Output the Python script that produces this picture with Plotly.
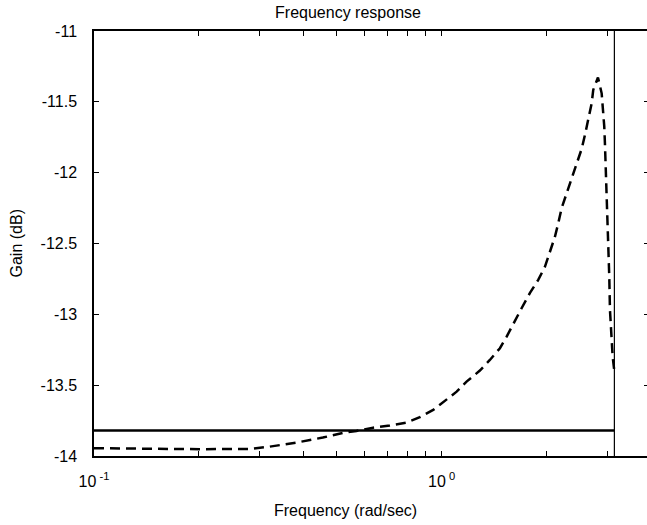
import plotly.graph_objects as go

# ---- data ----
freq = [0.1, 0.1446, 0.2015, 0.2807, 0.3204, 0.3825, 0.4554, 0.5199, 0.5691,
        0.6355, 0.7098, 0.7931, 0.8660, 0.9458, 1.0337, 1.105, 1.180, 1.289,
        1.377, 1.472, 1.539, 1.626, 1.699, 1.796, 1.897, 1.984, 2.050, 2.119,
        2.166, 2.215, 2.290, 2.367, 2.447, 2.529, 2.585, 2.642, 2.703, 2.731,
        2.818, 2.888, 2.919, 2.938, 2.951, 2.972, 3.001, 3.037, 3.051, 3.086,
        3.106, 3.1416]
gain_db = [-13.945, -13.950, -13.952, -13.950, -13.934, -13.905, -13.870,
           -13.837, -13.823, -13.800, -13.785, -13.764, -13.726, -13.675,
           -13.604, -13.546, -13.475, -13.397, -13.322, -13.239, -13.157,
           -13.040, -12.957, -12.849, -12.757, -12.663, -12.558, -12.452,
           -12.357, -12.251, -12.145, -12.040, -11.939, -11.833, -11.734,
           -11.616, -11.510, -11.416, -11.328, -11.440, -11.558, -11.675,
           -11.793, -12.002, -12.263, -12.734, -12.969, -13.181, -13.299,
           -13.404]

nyquist_freq = [3.1416, 3.1416]
nyquist_gain = [-11, -14]
ref_freq = [0.1, 3.1416]
ref_gain = [-13.82, -13.82]

x_major_vals = [0.1, 1]
x_major_text = ["10<sup> -1</sup>", "10<sup> 0</sup>"]
x_minor_vals = [0.2, 0.3, 0.4, 0.5, 0.6, 0.7, 0.8, 0.9, 2, 3]
y_tick_vals = [-14, -13.5, -13, -12.5, -12, -11.5, -11]
y_tick_text = ["-14", "-13.5", "-13", "-12.5", "-12", "-11.5", "-11"]

FONT = "Liberation Sans, Arial, Helvetica, sans-serif"

W, H = 647, 525
L, T, B = 94, 31, 525 - 456

fig = go.Figure()
fig.add_trace(go.Scatter(x=ref_freq, y=ref_gain, mode="lines",
                         line=dict(color="black", width=2.5),
                         showlegend=False, hoverinfo="skip"))
fig.add_trace(go.Scatter(x=freq, y=gain_db, mode="lines",
                         line=dict(color="black", width=2.5, dash="10px,6px"),
                         showlegend=False))
fig.add_trace(go.Scatter(x=nyquist_freq, y=nyquist_gain, mode="lines",
                         line=dict(color="black", width=1.2),
                         yaxis="y2", showlegend=False, hoverinfo="skip"))

fig.update_layout(
    width=W, height=H,
    margin=dict(l=L, r=0, t=T, b=B, pad=0),
    paper_bgcolor="white", plot_bgcolor="white",
    font=dict(family=FONT, size=16, color="black"),
    title=dict(text="Frequency response", x=348 / W, xref="container",
               xanchor="center", y=1 - 12 / H, yanchor="middle",
               font=dict(family=FONT, size=16, color="black")),
    xaxis=dict(type="log", range=[-1, 0.591], showgrid=False, zeroline=False,
               showline=True, linecolor="black", linewidth=1.5,
               mirror="allticks", ticks="inside", ticklen=5, tickwidth=1,
               tickcolor="black", tickmode="array", tickvals=x_major_vals,
               ticktext=x_major_text, ticklabelstandoff=10,
               tickfont=dict(size=16),
               minor=dict(tickmode="array", tickvals=x_minor_vals,
                          ticks="inside", ticklen=5, tickwidth=1,
                          tickcolor="black", showgrid=False)),
    yaxis=dict(range=[-14, -11], showgrid=False, zeroline=False,
               showline=True, linecolor="black", linewidth=1.5, mirror=False,
               ticks="inside", ticklen=5, tickwidth=1, tickcolor="black",
               tickmode="array", tickvals=y_tick_vals, ticktext=y_tick_text,
               ticklabelstandoff=12, tickfont=dict(size=16)),
    yaxis2=dict(range=[-14, -11], overlaying="y", side="right",
                showgrid=False, zeroline=False, showline=False,
                ticks="inside", ticklen=3, tickwidth=1, tickcolor="black",
                tickmode="array", tickvals=y_tick_vals, showticklabels=False),
    annotations=[
        dict(text="Frequency (rad/sec)", xref="paper", yref="paper",
             x=(345 - 94) / 553, y=0, yshift=-54, xanchor="center",
             yanchor="middle", showarrow=False,
             font=dict(family=FONT, size=16, color="black")),
        dict(text="Gain (dB)", xref="paper", yref="paper", x=0, y=0.5,
             xshift=-78, xanchor="center", yanchor="middle", textangle=-90,
             showarrow=False, font=dict(family=FONT, size=16, color="black")),
    ],
)

# remove the browser's default 8px body margin so the figure sits at (0, 0)
fig.write_html("out.html",
               config={"displayModeBar": False},
               post_script="document.body.style.margin='0';"
                           "document.body.style.overflow='hidden';")
